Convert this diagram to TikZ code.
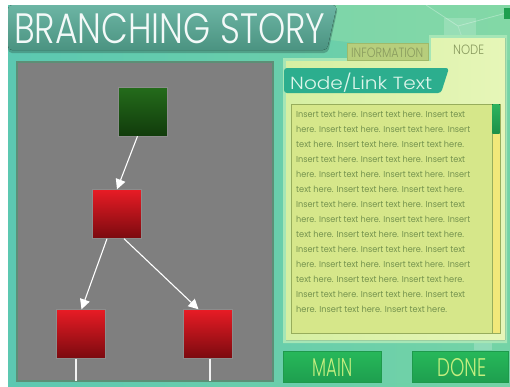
\documentclass[tikz,border=0pt]{standalone}
\usepackage{fontspec}
\usepackage{graphicx}
\setmainfont{Poppins Light}
\newfontfamily\bodyfont{Poppins}
\usetikzlibrary{arrows.meta}

\definecolor{bgteal}{HTML}{5CC8B1}
\definecolor{bggreen}{HTML}{74D3A6}
\definecolor{bglight}{HTML}{96DFA8}
\definecolor{titletop}{HTML}{6CB5A4}
\definecolor{titlebot}{HTML}{4B9381}
\definecolor{canvasgray}{HTML}{7F7F7F}
\definecolor{canvasedge}{HTML}{5C8F76}
\definecolor{greentop}{HTML}{246C1B}
\definecolor{greenbot}{HTML}{113B0B}
\definecolor{redtop}{HTML}{E81C25}
\definecolor{redbot}{HTML}{7A0A0F}
\definecolor{framegreen}{HTML}{A6E6B6}
\definecolor{panelleft}{HTML}{D6EFA2}
\definecolor{panelright}{HTML}{E6F6B8}
\definecolor{infotab}{HTML}{B7CE7C}
\definecolor{infoedge}{HTML}{9FBA6A}
\definecolor{infotext}{HTML}{889A5E}
\definecolor{bannerteal}{HTML}{2CAE8E}
\definecolor{bannertext}{HTML}{DDF5EA}
\definecolor{boxfill}{HTML}{D6E78A}
\definecolor{boxedge}{HTML}{97AD5C}
\definecolor{bodytext}{HTML}{74924E}
\definecolor{scrolltrack}{HTML}{F1E87A}
\definecolor{thumbtop}{HTML}{2DB35E}
\definecolor{thumbbot}{HTML}{1C9149}
\definecolor{btntop}{HTML}{27B85A}
\definecolor{btnbot}{HTML}{1E9F4F}
\definecolor{btnedge}{HTML}{1E9A4C}
\definecolor{btntext}{HTML}{C6EF80}

\newcommand\fitto[3]{\resizebox{#1}{#2}{#3}}

\tikzset{
  storybox/.style={draw=black!45, line width=0.4pt, minimum size=49pt, inner sep=0pt},
  startbox/.style={storybox, top color=greentop, bottom color=greenbot},
  branchbox/.style={storybox, top color=redtop, bottom color=redbot},
  link/.style={draw=white, line width=1.1pt, -{Triangle[length=10pt,width=10pt]}},
  tail/.style={draw=white!90!gray, line width=1.1pt},
  label/.style={inner sep=0pt, anchor=base west},
  bodyline/.style={label, text=bodytext, font=\bodyfont},
  buttonbox/.style={draw=btnedge, line width=0.6pt, top color=btntop, bottom color=btnbot},
}

\begin{document}
\begin{tikzpicture}[x=1pt,y=-1pt]
\useasboundingbox (0,0) rectangle (510,386);
\fill[white] (0,0) rectangle (510,386);

% backdrop
\fill[left color=bgteal, right color=bggreen] (8,5) rectangle (510,386);
\fill[bglight, opacity=0.45] (330,5) -- (510,5) -- (510,60) -- (330,40) -- cycle;
\fill[white, opacity=0.18] (444,18) rectangle (476,44);
\draw[white, opacity=0.3, line width=0.8pt] (426,5) -- (458,26) -- (510,12);
\draw[white, opacity=0.2, line width=0.8pt] (458,26) -- (470,60);
\fill[btnbot] (504,8) rectangle (510,19);
\fill[white, opacity=0.2] (474,330) rectangle (492,350);

% title banner
\fill[titlebot!80!black, opacity=0.5, rounded corners=4pt] (8,7) -- (338,7) -- (328,53) -- (8,53) -- cycle;
\fill[top color=titletop, bottom color=titlebot, rounded corners=4pt] (8,5) -- (337,5) -- (327,50) -- (8,50) -- cycle;
\node[label, text=white!92!titletop] (title) at (14,43) {\fitto{311pt}{30pt}{BRANCHING STORY}};

% story canvas
\fill[canvasgray, draw=canvasedge, line width=1.2pt] (17,62) rectangle (273,381);
\coordinate (floor) at (17,381);

\node[startbox]  (start) at (142.5,111.5) {};
\node[branchbox] (mid)   at (117,214) {};
\node[branchbox] (left)  at (80.5,334) {};
\node[branchbox] (right) at (207.5,334) {};

\draw[link] ([xshift=-5pt]start.south) -- (mid.north);
\draw[link] ([xshift=-10pt]mid.south) -- ([xshift=1pt]left.north);
\draw[link] ([xshift=7pt]mid.south) -- ([xshift=-9pt]right.north);
\draw[tail] ([xshift=-4.5pt]left.south) -- ([xshift=-4.5pt]left.south |- floor);
\draw[tail] ([xshift=2.5pt]right.south) -- ([xshift=2.5pt]right.south |- floor);

% side panel with tabs
\fill[framegreen] (283,58) -- (429,58) -- (429,35) -- (507,35) -- (507,343) -- (283,343) -- cycle;
\fill[left color=panelleft, right color=panelright] (286,61) -- (431,61) -- (431,38) -- (505,38) -- (505,340) -- (286,340) -- cycle;
\fill[infotab, draw=infoedge, line width=0.6pt] (347,43) rectangle (428,60);
\node[label, text=infotext] (infolabel) at (351,57) {\fitto{72pt}{9.5pt}{INFORMATION}};
\node[label, text=infotext] (nodelabel) at (453,54) {\fitto{31pt}{9.5pt}{NODE}};

% heading banner
\fill[bannerteal, rounded corners=3pt] (284,68) -- (449,68) -- (441,93) -- (284,93) -- cycle;
\node[label, text=bannertext] (heading) at (290,89) {\fitto{142pt}{16.5pt}{Node/Link Text}};

% text area and scrollbar
\fill[boxfill, draw=boxedge, line width=0.7pt] (291,104) rectangle (500,333);
\fill[scrolltrack, draw=boxedge, line width=0.5pt] (492,104) rectangle (500,333);
\fill[top color=thumbtop, bottom color=thumbbot] (492.3,104.3) rectangle (499.7,133);

\foreach \k/\w/\t in {
  0/169/{Insert text here. Insert text here. Insert text},
  1/174/{here. Insert text here. Insert text here. Insert},
  2/168/{text here. Insert text here. Insert text here.},
  3/169/{Insert text here. Insert text here. Insert text},
  4/174/{here. Insert text here. Insert text here. Insert},
  5/168/{text here. Insert text here. Insert text here.},
  6/169/{Insert text here. Insert text here. Insert text},
  7/174/{here. Insert text here. Insert text here. Insert},
  8/168/{text here. Insert text here. Insert text here.},
  9/169/{Insert text here. Insert text here. Insert text},
  10/174/{here. Insert text here. Insert text here. Insert},
  11/168/{text here. Insert text here. Insert text here.},
  12/169/{Insert text here. Insert text here. Insert text},
  13/151/{here. Insert text here. Insert text here.}}
  \node[bodyline] (line\k) at (296,{117+15*\k}) {\fitto{\w pt}{6.4pt}{\t}};

% buttons
\fill[buttonbox] (283,351) rectangle (381,382);
\fill[buttonbox] (412,351) rectangle (508,382);
\node[label, text=btntext] (main) at (312,376) {\fitto{40pt}{18pt}{MAIN}};
\node[label, text=btntext] (done) at (437,376) {\fitto{49pt}{18pt}{DONE}};
\end{tikzpicture}
\end{document}
